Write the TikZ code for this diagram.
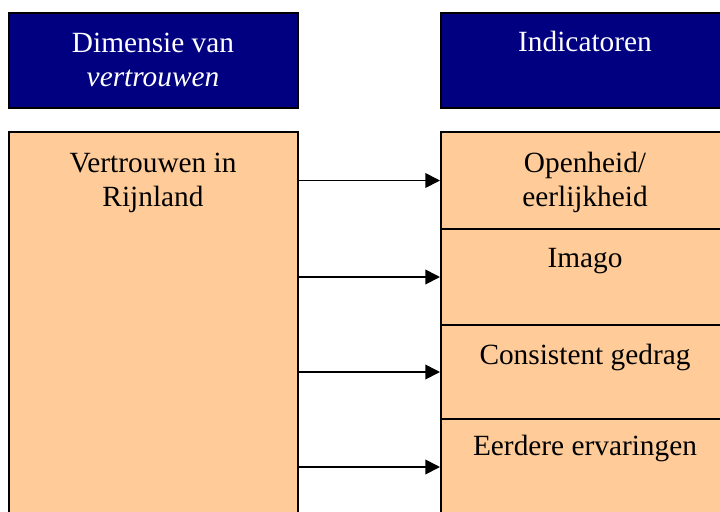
\documentclass[tikz,border=0pt]{standalone}
\usepackage{fontspec}
\setmainfont{Liberation Serif}
\usetikzlibrary{arrows.meta}
\definecolor{hdrblue}{HTML}{000080}
\definecolor{boxorange}{HTML}{FFCC99}
\tikzset{
  hdr/.style={draw=black, line width=1.5pt, fill=hdrblue, anchor=north west, inner sep=0pt},
  obox/.style={draw=black, line width=1.5pt, fill=boxorange, anchor=north west, inner sep=0pt},
  wtxt/.style={text=white, font=\fontsize{22}{25.5}\selectfont, align=center, anchor=base, inner sep=0pt},
  btxt/.style={text=black, font=\fontsize{22}{25.5}\selectfont, align=center, anchor=base, inner sep=0pt},
  arr/.style={line width=1.3pt, -{Triangle[length=11pt,width=11pt]}}
}
\begin{document}
\begin{tikzpicture}[x=0.75pt,y=-0.75pt]
\useasboundingbox (0,0) rectangle (720,511);
\clip (0,0) rectangle (720,511);
% headers
\node[hdr, minimum width=289*0.75pt, minimum height=95*0.75pt] (h1) at (8,12) {};
\node[hdr, minimum width=300*0.75pt, minimum height=95*0.75pt] (h2) at (440,12) {};
\node[wtxt] (h1t) at (153,86) {Dimensie van\\\textit{vertrouwen}};
\node[wtxt] (h2t) at (585,51) {Indicatoren};
% left box
\node[obox, minimum width=289*0.75pt, minimum height=400*0.75pt] (lb) at (8,131) {};
\node[btxt] (lbt) at (153,206) {Vertrouwen in\\Rijnland};
% right boxes
\node[obox, minimum width=300*0.75pt, minimum height=97*0.75pt] (r1) at (440,131) {};
\node[obox, minimum width=300*0.75pt, minimum height=96*0.75pt] (r2) at (440,228) {};
\node[obox, minimum width=300*0.75pt, minimum height=94*0.75pt] (r3) at (440,324) {};
\node[obox, minimum width=300*0.75pt, minimum height=110*0.75pt] (r4) at (440,418) {};
\node[btxt] (r1t) at (585,206) {Openheid/\\eerlijkheid};
\node[btxt] (r2t) at (585,267) {Imago};
\node[btxt] (r3t) at (585,364) {Consistent gedrag};
\node[btxt] (r4t) at (585,455) {Eerdere ervaringen};
% arrows
\coordinate (a4) at (0,467);
\draw[arr] (r1.west -| lb.east) -- (r1.west);
\draw[arr] (r2.west -| lb.east) -- (r2.west);
\draw[arr] (r3.west -| lb.east) -- (r3.west);
\draw[arr] (lb.east |- a4) -- (r4.west |- a4);
\end{tikzpicture}
\end{document}
